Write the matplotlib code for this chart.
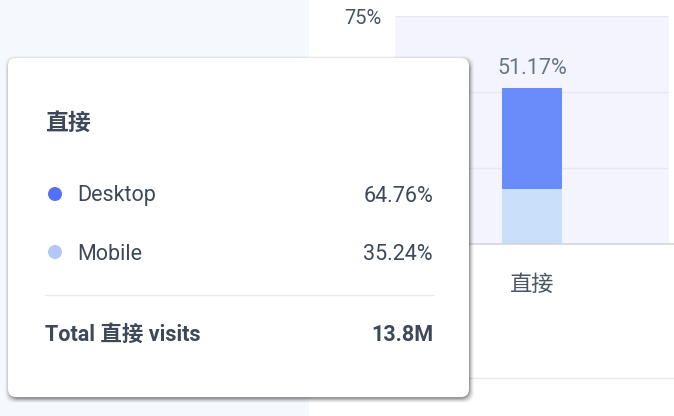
import matplotlib.pyplot as plt
from matplotlib.patches import FancyBboxPatch, Rectangle, Ellipse
from matplotlib.lines import Line2D

# data
categories = ["直接"]
total_share = [51.17]          # % of all visits
desktop_share = [64.76]        # % of the channel
mobile_share = [35.24]
total_visits = ["13.8M"]
y_ticks = [0, 25, 50, 75]

W, H = 674, 416
fam = ["Roboto", "Noto Sans CJK SC", "DejaVu Sans"]
plt.rcParams["font.family"] = fam

fig = plt.figure(figsize=(W / 100, H / 100), dpi=100)
fig.patch.set_facecolor("#f5f8fc")

def fx(x):
    return x / W

def fy(y):
    return 1 - y / H

# white panel behind chart
fig.patches.append(Rectangle((fx(309), 0), 1, 1, transform=fig.transFigure,
                             facecolor="white", edgecolor="none", zorder=0))
fig.lines.append(Line2D([fx(309), 1], [fy(378), fy(378)], transform=fig.transFigure,
                        color="#e5e7eb", lw=1, zorder=0.5))
fig.lines.append(Line2D([fx(395), 1], [fy(244), fy(244)], transform=fig.transFigure,
                        color="#d3d6dd", lw=1.2, zorder=2))

ax = fig.add_axes([fx(395), fy(244), fx(669) - fx(395), (244 - 16) / H])
ax.set_facecolor("#f3f4fd")
ax.set_zorder(1)

desk = [t * d / 100 for t, d in zip(total_share, desktop_share)]
mob = [t * m / 100 for t, m in zip(total_share, mobile_share)]
xs = list(range(len(categories)))
ax.bar(xs, mob, width=0.219, color="#cadffa", zorder=3)
ax.bar(xs, desk, bottom=mob, width=0.219, color="#6a8cfa", zorder=3)
for x, t in zip(xs, total_share):
    ax.text(x, t + 3, f"{t:.2f}%", ha="center", va="bottom", fontsize=15.5,
            color="#6b7685")

ax.set_xlim(-0.5, 0.5)
ax.set_ylim(0, 75)
ax.set_yticks(y_ticks)
ax.set_yticklabels([f"{v}%" for v in y_ticks], fontsize=14.5, color="#4a5464")
ax.tick_params(axis="y", length=0, pad=10)
# only the top label peeks out from behind the tooltip
for lab in ax.get_yticklabels()[:-1]:
    lab.set_visible(False)
ax.set_xticks(xs)
ax.set_xticklabels(categories, fontsize=16, color="#4a5565")
ax.tick_params(axis="x", length=0, pad=22)
ax.grid(axis="y", color="#e6e8f5", lw=1)
ax.set_axisbelow(True)
for s in ax.spines.values():
    s.set_visible(False)

# tooltip shadow + box
tx0, ty0, tx1, ty1 = 8, 58, 469, 397
for i, a in enumerate([0.04, 0.07, 0.11, 0.16, 0.22]):
    g = 4 - i
    fig.patches.append(FancyBboxPatch(
        (fx(tx0 - g + 1), fy(ty1 + g + 2)), fx(tx1 - tx0 + 2 * g), (ty1 - ty0 + 2 * g) / H,
        boxstyle=f"round,pad=0,rounding_size={10 / W}", transform=fig.transFigure,
        facecolor="#333333", edgecolor="none", alpha=a, zorder=5,
        mutation_aspect=W / H))
fig.patches.append(FancyBboxPatch(
    (fx(tx0), fy(ty1)), fx(tx1 - tx0), (ty1 - ty0) / H,
    boxstyle=f"round,pad=0,rounding_size={8 / W}", transform=fig.transFigure,
    facecolor="white", edgecolor="none", zorder=6, mutation_aspect=W / H))

txt = "#3d4859"
fig.text(fx(45), fy(123), categories[0], fontsize=16.5, fontweight="bold",
         color=txt, va="center", ha="left", zorder=7)

rows = [("Desktop", desktop_share[0], "#5470f6", 194),
        ("Mobile", mobile_share[0], "#b3c8f6", 252)]
for name, val, col, yy in rows:
    fig.patches.append(Ellipse((fx(55), fy(yy)), 14 / W, 14 / H, transform=fig.transFigure,
                               facecolor=col, edgecolor="none", zorder=7))
    fig.text(fx(77), fy(yy + 2), name, fontsize=15.5, color=txt, va="center",
             ha="left", zorder=7)
    fig.text(fx(433), fy(yy + 2), f"{val:.2f}%", fontsize=15.5, color=txt,
             va="center", ha="right", zorder=7)

fig.lines.append(Line2D([fx(45), fx(433)], [fy(295), fy(295)], transform=fig.transFigure,
                        color="#e8eaee", lw=1, zorder=7))
fig.text(fx(45), fy(335), f"Total {categories[0]} visits", fontsize=15.5,
         fontweight="bold", color=txt, va="center", ha="left", zorder=7)
fig.text(fx(433), fy(335), total_visits[0], fontsize=15.5, fontweight="bold",
         color=txt, va="center", ha="right", zorder=7)

plt.savefig("out.png", dpi=100)
